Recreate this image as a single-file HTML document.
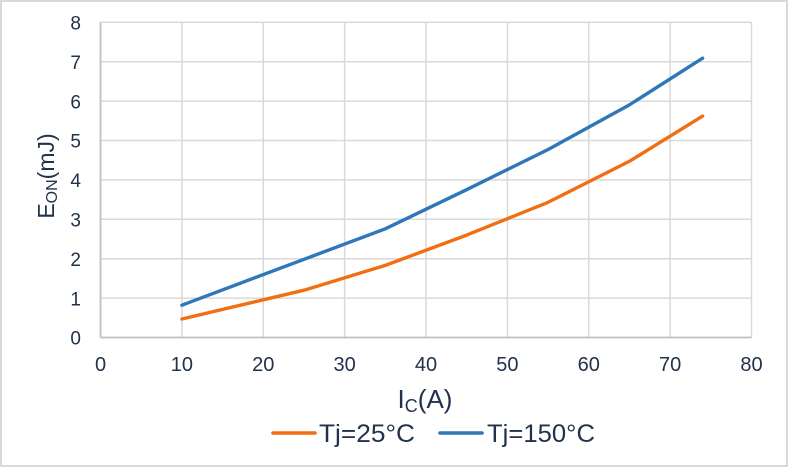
<!DOCTYPE html>
<html>
<head>
<meta charset="utf-8">
<style>
html,body{margin:0;padding:0;background:#fff;}
svg{display:block;}
text{font-family:"Liberation Sans",Arial,sans-serif;fill:#22324a;}
</style>
</head>
<body>
<svg width="789" height="468" viewBox="0 0 789 468" xmlns="http://www.w3.org/2000/svg">
  <rect x="0" y="0" width="789" height="468" fill="#fff"/>
  <rect x="1" y="1" width="786" height="465" fill="none" stroke="#d9d9d9" stroke-width="2"/>

  <!-- gridlines -->
  <g stroke="#d9d9d9" stroke-width="1.5" fill="none">
    <line x1="100.5" y1="22.3" x2="751.5" y2="22.3"/>
    <line x1="100.5" y1="61.7" x2="751.5" y2="61.7"/>
    <line x1="100.5" y1="101.1" x2="751.5" y2="101.1"/>
    <line x1="100.5" y1="140.5" x2="751.5" y2="140.5"/>
    <line x1="100.5" y1="179.9" x2="751.5" y2="179.9"/>
    <line x1="100.5" y1="219.3" x2="751.5" y2="219.3"/>
    <line x1="100.5" y1="258.7" x2="751.5" y2="258.7"/>
    <line x1="100.5" y1="298.1" x2="751.5" y2="298.1"/>

    <line x1="181.9" y1="22.3" x2="181.9" y2="337.5"/>
    <line x1="263.3" y1="22.3" x2="263.3" y2="337.5"/>
    <line x1="344.6" y1="22.3" x2="344.6" y2="337.5"/>
    <line x1="426.0" y1="22.3" x2="426.0" y2="337.5"/>
    <line x1="507.4" y1="22.3" x2="507.4" y2="337.5"/>
    <line x1="588.8" y1="22.3" x2="588.8" y2="337.5"/>
    <line x1="670.1" y1="22.3" x2="670.1" y2="337.5"/>
    <line x1="751.5" y1="22.3" x2="751.5" y2="337.5"/>
  </g>
  <!-- axes -->
  <g stroke="#bfbfbf" stroke-width="1.8" fill="none">
    <line x1="100.5" y1="22.3" x2="100.5" y2="337.5"/>
    <line x1="100.5" y1="337.5" x2="751.5" y2="337.5"/>
  </g>

  <!-- series -->
  <polyline fill="none" stroke="#2f77b9" stroke-width="3.4" stroke-linecap="round" stroke-linejoin="round"
    points="181.9,305.2 385.3,228.8 466.6,189.7 547.9,149.6 629.2,105.0 702.6,58.2"/>
  <polyline fill="none" stroke="#f26e12" stroke-width="3.4" stroke-linecap="round" stroke-linejoin="round"
    points="181.9,319.0 304.0,290.2 385.3,265.4 466.6,235.1 547.9,202.4 629.2,161.4 702.6,116.1"/>

  <!-- y tick labels -->
  <g font-size="19" text-anchor="end">
    <text x="81" y="29.5">8</text>
    <text x="81" y="68.9">7</text>
    <text x="81" y="108.3">6</text>
    <text x="81" y="147.7">5</text>
    <text x="81" y="187.1">4</text>
    <text x="81" y="226.5">3</text>
    <text x="81" y="265.9">2</text>
    <text x="81" y="305.3">1</text>
    <text x="81" y="344.7">0</text>
  </g>
  <!-- x tick labels -->
  <g font-size="20" text-anchor="middle">
    <text x="100.5" y="371">0</text>
    <text x="181.9" y="371">10</text>
    <text x="263.3" y="371">20</text>
    <text x="344.6" y="371">30</text>
    <text x="426.0" y="371">40</text>
    <text x="507.4" y="371">50</text>
    <text x="588.8" y="371">60</text>
    <text x="670.1" y="371">70</text>
    <text x="751.5" y="371">80</text>
  </g>

  <!-- axis titles -->
  <text x="425" y="408" font-size="26" text-anchor="middle">I<tspan font-size="18" dy="4">C</tspan><tspan dy="-4">(A)</tspan></text>
  <text transform="translate(54,176) rotate(-90)" font-size="23" text-anchor="middle">E<tspan font-size="16" dy="3">ON</tspan><tspan dy="-3">(mJ)</tspan></text>

  <!-- legend -->
  <line x1="273" y1="433" x2="315" y2="433" stroke="#f26e12" stroke-width="3.6" stroke-linecap="round"/>
  <text x="319" y="442" font-size="25" textLength="96" lengthAdjust="spacingAndGlyphs">Tj=25°C</text>
  <line x1="440" y1="433" x2="482" y2="433" stroke="#2f77b9" stroke-width="3.6" stroke-linecap="round"/>
  <text x="487" y="442" font-size="25" textLength="108" lengthAdjust="spacingAndGlyphs">Tj=150°C</text>
</svg>
</body>
</html>
